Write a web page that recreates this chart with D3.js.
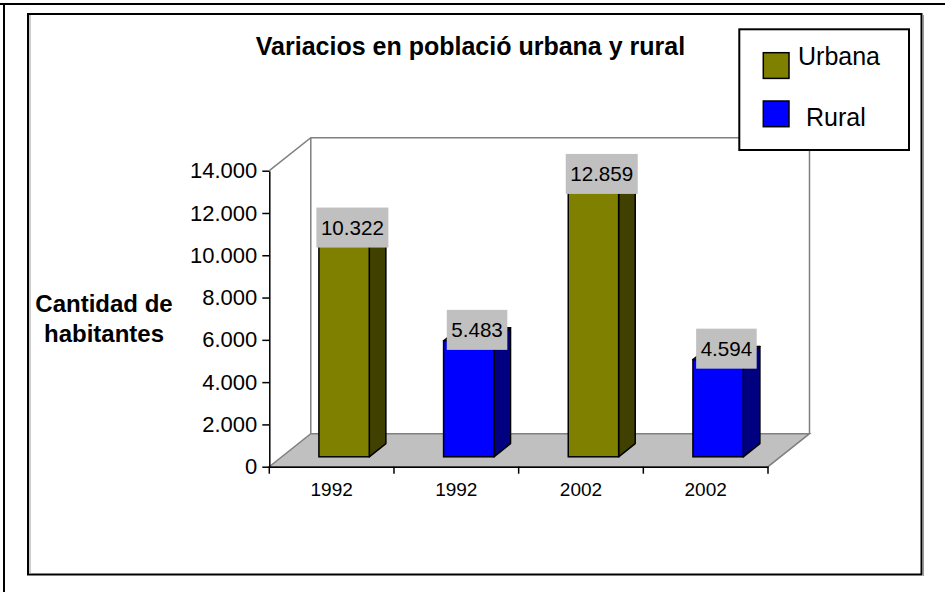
<!DOCTYPE html>
<html>
<head>
<meta charset="utf-8">
<script src="https://cdn.jsdelivr.net/npm/d3@7"></script>
<style>
  body { margin: 0; background: #fff; }
  svg { display: block; font-family: "Liberation Sans", Arial, sans-serif; }
</style>
</head>
<body>
<div id="chart"></div>
<script>
// data
const categories = ["1992", "1992", "2002", "2002"];
const series = ["Urbana", "Rural", "Urbana", "Rural"];
const values = [10322, 5483, 12859, 4594];
const legendItems = ["Urbana", "Rural"];
const yTicks = [0, 2000, 4000, 6000, 8000, 10000, 12000, 14000];

const config = {
  width: 945,
  height: 592,
  plot: { left: 269.3, right: 768, top: 170.7, bottom: 466.7 },
  depth: { dx: 41.5, dy: -33 },
};
const { width, height, plot, depth } = config;

const colors = {
  Urbana: { front: "#808000", side: "#404000", top: "#9a9a00" },
  Rural: { front: "#0000ff", side: "#000080", top: "#3333ff" },
};

const es = d3.formatLocale({ decimal: ",", thousands: ".", grouping: [3], currency: ["", ""] });
const fmt = es.format(",d");

const svg = d3.select("#chart").append("svg")
  .attr("width", width)
  .attr("height", height);

// outer frame (only top and left edges visible)
svg.append("line").attr("x1", 0).attr("x2", width).attr("y1", 4).attr("y2", 4)
  .attr("stroke", "#000").attr("stroke-width", 2);
svg.append("line").attr("x1", 4).attr("x2", 4).attr("y1", 3).attr("y2", height)
  .attr("stroke", "#000").attr("stroke-width", 2);

// chart area box
svg.append("rect")
  .attr("x", 28).attr("y", 14).attr("width", 893.5).attr("height", 560.5)
  .attr("fill", "#fff").attr("stroke", "#000").attr("stroke-width", 2);
svg.append("line").attr("x1", 30).attr("x2", 30).attr("y1", 15).attr("y2", 574)
  .attr("stroke", "#999").attr("stroke-width", 1);
svg.append("line").attr("x1", 923.5).attr("x2", 923.5).attr("y1", 15).attr("y2", 576)
  .attr("stroke", "#999").attr("stroke-width", 1);

const x = d3.scaleBand()
  .domain(d3.range(categories.length))
  .range([plot.left, plot.right]);

const y = d3.scaleLinear()
  .domain([0, 14000])
  .range([plot.bottom, plot.top]);

const wallColor = "#808080";
const y0 = y(0), yTop = y(14000);

// floor
svg.append("polygon")
  .attr("points", [
    [plot.left, y0], [plot.right, y0],
    [plot.right + depth.dx, y0 + depth.dy], [plot.left + depth.dx, y0 + depth.dy],
  ].join(" "))
  .attr("fill", "#c0c0c0").attr("stroke", wallColor).attr("stroke-width", 1.5);

// walls
const wallPath = d3.path();
wallPath.moveTo(plot.left, yTop);
wallPath.lineTo(plot.left + depth.dx, yTop + depth.dy);
wallPath.lineTo(plot.right + depth.dx, yTop + depth.dy);
wallPath.lineTo(plot.right + depth.dx, y0 + depth.dy);
wallPath.moveTo(plot.left + depth.dx, yTop + depth.dy);
wallPath.lineTo(plot.left + depth.dx, y0 + depth.dy);
svg.append("path").attr("d", wallPath.toString())
  .attr("fill", "none").attr("stroke", wallColor).attr("stroke-width", 1.5);

// bars
const barW = x.bandwidth() * 0.404;
const ox = depth.dx * 0.3, oy = depth.dy * 0.3;
const sdx = depth.dx * 0.4, sdy = depth.dy * 0.4;

const bars = svg.append("g").selectAll("g")
  .data(values.map((v, i) => ({ i, v, s: series[i] })))
  .join("g");

bars.each(function (d) {
  const g = d3.select(this);
  const bx = x(d.i) + (x.bandwidth() - barW) / 2 + ox;
  const by0 = y(0) + oy;
  const by1 = y(d.v) + oy;
  const c = colors[d.s];
  g.append("polygon")
    .attr("points", [[bx + barW, by0], [bx + barW + sdx, by0 + sdy], [bx + barW + sdx, by1 + sdy], [bx + barW, by1]].join(" "))
    .attr("fill", c.side).attr("stroke", "#000").attr("stroke-width", 1.5).attr("stroke-linejoin", "round");
  g.append("polygon")
    .attr("points", [[bx, by1], [bx + barW, by1], [bx + barW + sdx, by1 + sdy], [bx + sdx, by1 + sdy]].join(" "))
    .attr("fill", c.top).attr("stroke", "#000").attr("stroke-width", 1.5).attr("stroke-linejoin", "round");
  g.append("rect")
    .attr("x", bx).attr("y", by1).attr("width", barW).attr("height", by0 - by1)
    .attr("fill", c.front).attr("stroke", "#000").attr("stroke-width", 1.5);
});

// y axis
const yAxis = svg.append("g")
  .attr("transform", `translate(${plot.left},0)`)
  .call(d3.axisLeft(y).tickValues(yTicks).tickFormat(fmt).tickSizeInner(7).tickSizeOuter(0).tickPadding(5));
yAxis.select(".domain").attr("stroke-width", 1.5);
yAxis.selectAll(".tick line").attr("stroke-width", 1.5);
yAxis.selectAll("text").attr("font-size", 22).attr("font-family", "Liberation Sans, Arial, sans-serif").attr("fill", "#000");

// x axis
const xAxis = svg.append("g")
  .attr("transform", `translate(0,${plot.bottom})`)
  .call(d3.axisBottom(x).tickFormat((i) => categories[i]).tickSize(0).tickPadding(16));
xAxis.select(".domain").attr("stroke-width", 1.5);
xAxis.selectAll("text").attr("font-size", 19).attr("font-family", "Liberation Sans, Arial, sans-serif").attr("fill", "#000");
xAxis.selectAll(".edge-tick")
  .data(d3.range(categories.length + 1))
  .join("line")
  .attr("class", "edge-tick")
  .attr("x1", (i) => (i < categories.length ? x(i) : x(i - 1) + x.bandwidth()))
  .attr("x2", (i) => (i < categories.length ? x(i) : x(i - 1) + x.bandwidth()))
  .attr("y1", 0).attr("y2", 7)
  .attr("stroke", "#000").attr("stroke-width", 1.5);

// data labels
const labels = svg.append("g").selectAll("g")
  .data(values.map((v, i) => ({ i, v })))
  .join("g");
labels.each(function (d) {
  const g = d3.select(this);
  const cx = x(d.i) + x.bandwidth() / 2 + ox + sdx / 2;
  const cy = y(d.v) + oy - 11;
  const t = g.append("text")
    .attr("x", cx).attr("y", cy).attr("dy", "0.35em")
    .attr("text-anchor", "middle")
    .attr("font-size", 20.6)
    .text(fmt(d.v));
  const w = t.node().getComputedTextLength() + 9;
  g.insert("rect", "text")
    .attr("x", cx - w / 2).attr("y", cy - 20).attr("width", w).attr("height", 40)
    .attr("fill", "#c0c0c0");
});

// title
svg.append("text")
  .attr("x", 470.5).attr("y", 55)
  .attr("text-anchor", "middle")
  .attr("font-size", 25).attr("font-weight", "bold")
  .text("Variacios en població urbana y rural");

// y axis title
svg.append("text")
  .attr("x", 104).attr("y", 312)
  .attr("text-anchor", "middle")
  .attr("font-size", 24).attr("font-weight", "bold")
  .selectAll("tspan")
  .data(["Cantidad de", "habitantes"])
  .join("tspan")
  .attr("x", 104)
  .attr("dy", (d, i) => (i === 0 ? 0 : 30))
  .text((d) => d);

// legend
const legend = svg.append("g");
legend.append("rect")
  .attr("x", 739.3).attr("y", 29.3).attr("width", 169.7).attr("height", 120.7)
  .attr("fill", "#fff").attr("stroke", "#000").attr("stroke-width", 2);
legend.selectAll(".swatch")
  .data(legendItems)
  .join("rect")
  .attr("class", "swatch")
  .attr("x", 763.3).attr("y", (d, i) => 52.7 + i * 48.3)
  .attr("width", 25.7).attr("height", 25.7)
  .attr("fill", (d) => colors[d].front).attr("stroke", "#000").attr("stroke-width", 1.5);
legend.selectAll(".label")
  .data(legendItems)
  .join("text")
  .attr("class", "label")
  .attr("x", (d, i) => (i === 0 ? 798 : 806))
  .attr("y", (d, i) => 65 + i * 61)
  .attr("font-size", 25)
  .text((d) => d);
</script>
</body>
</html>
